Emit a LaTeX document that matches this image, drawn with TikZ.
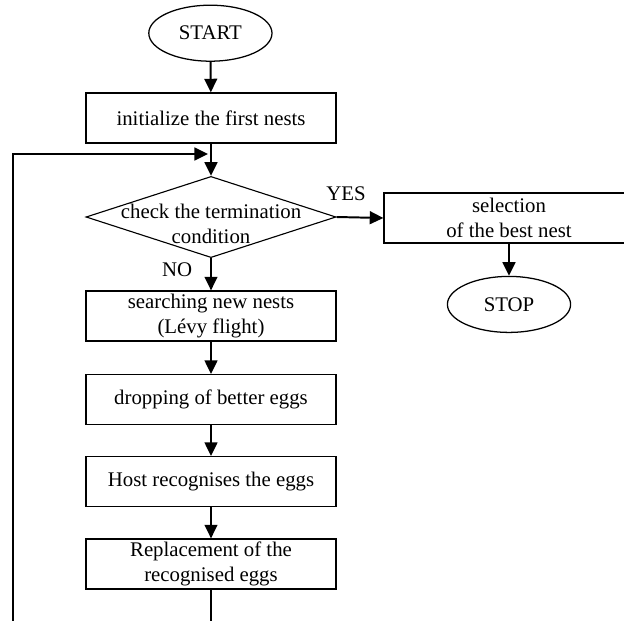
\documentclass[tikz,border=0pt]{standalone}
\usepackage{fontspec}
\setmainfont{Liberation Serif}
\usetikzlibrary{shapes.geometric,arrows.meta}

\begin{document}
\begin{tikzpicture}[
  box/.style={draw,line width=0.9pt,minimum width=6.25cm,minimum height=1.25cm,align=center,inner sep=1pt},
  term/.style={draw,ellipse,line width=0.9pt,minimum width=3.08cm,minimum height=1.4cm,inner sep=0pt},
  decision/.style={draw,diamond,line width=0.8pt,minimum width=6.25cm,minimum height=2.03cm,inner sep=0pt},
  arr/.style={line width=1.4pt,-{Triangle[length=0.34cm,width=0.32cm]}},
  font=\fontsize{14.8}{17.5}\selectfont]
\useasboundingbox (0,0) rectangle (15.6,-15.5);
\node[term] (start) at (5.26,-0.83) {START};
\node[box] (init) at (5.275,-2.95) {initialize the first nests};
\node[decision] (check) at (5.275,-5.425) {};
\node[align=center] (checktxt) at (5.275,-5.6) {check the termination\\condition};
\node[box] (select) at (12.725,-5.45) {selection\\of the best nest};
\node[term] (stop) at (12.725,-7.61) {STOP};
\node[box] (search) at (5.275,-7.9) {searching new nests\\(Lévy flight)};
\node[box] (drop) at (5.275,-9.99) {dropping of better eggs};
\node[box] (host) at (5.275,-12.04) {Host recognises the eggs};
\node[box] (repl) at (5.275,-14.1) {Replacement of the\\recognised eggs};
\node (yes) at (8.65,-4.85) {YES};
\node (no) at (4.43,-6.75) {NO};
\coordinate (loopin) at (5.2,-3.85);
\coordinate (loopcorner) at (0.325,-16);

\draw[arr] (start) -- (init);
\draw[arr] (init) -- (check);
\draw[arr] (check.east) -- (select.west);
\draw[arr] (select) -- (stop);
\draw[arr] (check.south) -- (search);
\draw[arr] (search) -- (drop);
\draw[arr] (drop) -- (host);
\draw[arr] (host) -- (repl);
\draw[arr] (repl.south) |- (loopcorner) |- (loopin);
\end{tikzpicture}
\end{document}
